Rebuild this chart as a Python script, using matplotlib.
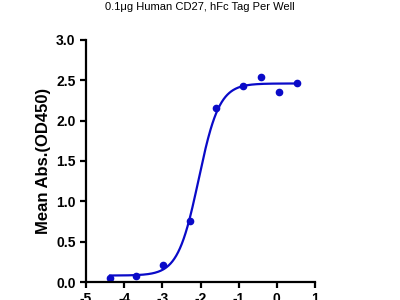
import numpy as np
import matplotlib
matplotlib.use('Agg')
import matplotlib.pyplot as plt

plt.rcParams['font.family'] = ['Liberation Sans Narrow', 'Liberation Sans', 'DejaVu Sans']
plt.rcParams['axes.unicode_minus'] = False

# log10 concentration vs. mean absorbance
log_conc = [-4.37, -3.69, -2.98, -2.28, -1.60, -0.89, -0.42, 0.05, 0.52]
od450 = [0.05, 0.08, 0.21, 0.76, 2.16, 2.43, 2.54, 2.36, 2.46]

# 4PL fit parameters
bottom, top, log_ec50, hill = 0.08, 2.46, -2.05, 1.6

title = '0.1μg Human CD27, hFc Tag Per Well'
blue = '#0a0ac8'

fig = plt.figure(figsize=(4, 3), dpi=100)
ax = fig.add_axes([0.215, 0.06, 0.5725, 0.807])

xf = np.linspace(min(log_conc), max(log_conc), 300)
yf = bottom + (top - bottom) / (1 + 10 ** ((log_ec50 - xf) * hill))
ax.plot(xf, yf, color=blue, lw=1.6)
ax.plot(log_conc, od450, 'o', color=blue, ms=4.5)

ax.set_xlim(-5, 1)
ax.set_ylim(0, 3.0)
ax.set_xticks(range(-5, 2))
ax.set_yticks(np.arange(0, 3.01, 0.5))
ax.set_yticklabels([f'{v:.1f}' for v in np.arange(0, 3.01, 0.5)])

for s in ['top', 'right']:
    ax.spines[s].set_visible(False)
for s in ['left', 'bottom']:
    ax.spines[s].set_linewidth(1.6)
ax.tick_params(width=1.6, length=4, labelsize=10)
for lab in ax.get_xticklabels() + ax.get_yticklabels():
    lab.set_fontweight('bold')

ax.set_ylabel('Mean Abs.(OD450)', fontsize=12, fontweight='bold',
              family=['Liberation Sans', 'DejaVu Sans'], labelpad=4)
fig.text(0.5, 0.978, title, ha='center', va='center', fontsize=8)

fig.savefig('out.png', dpi=100)
